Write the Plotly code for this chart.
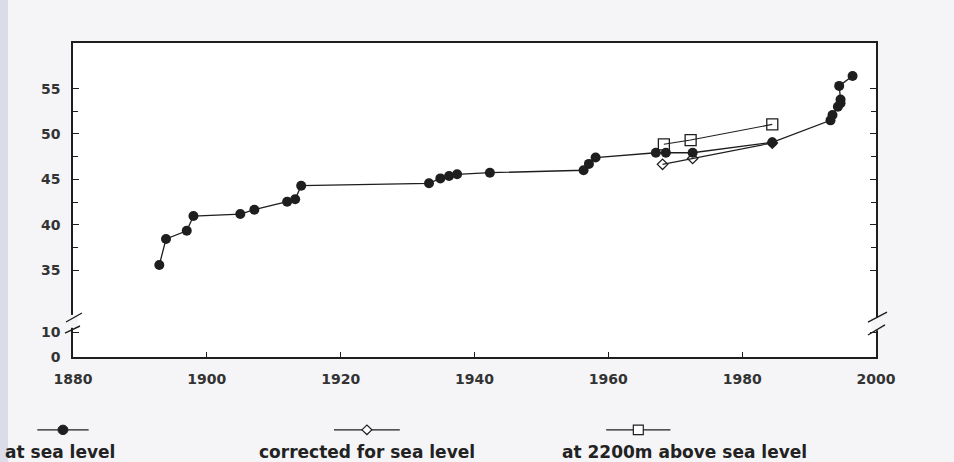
import plotly.graph_objects as go

# ---------------- data ----------------
sea_year = [1892.9, 1893.9, 1897.0, 1898.0, 1905.0, 1907.1, 1912.0, 1913.2, 1914.1,
            1933.2, 1934.9, 1936.2, 1937.4, 1942.3, 1956.3, 1957.1, 1958.1,
            1967.1, 1968.6, 1972.6, 1984.5, 1993.2, 1993.5, 1994.3, 1994.7,
            1994.7, 1994.5, 1996.5]
sea_val = [35.55, 38.42, 39.33, 40.95, 41.17, 41.65, 42.53, 42.8, 44.3,
           44.56, 45.1, 45.36, 45.55, 45.73, 46.0, 46.7, 47.4,
           47.93, 47.93, 47.93, 49.08, 51.5, 52.1, 53.0, 53.4,
           53.8, 55.3, 56.4]
corr_year = [1968.1, 1972.6, 1984.5]
corr_val = [46.65, 47.3, 49.0]
alt_year = [1968.3, 1972.3, 1984.5]
alt_val = [48.86, 49.33, 51.06]

x_ticks = [1880, 1900, 1920, 1940, 1960, 1980, 2000]
y_major = [35, 40, 45, 50, 55]
y_minor = [37.5, 42.5, 47.5, 52.5]
# broken axis: the bottom segment (0 and 10) is drawn compressed below the break
y_zero_pos = 25.41
y_ten_pos = 28.16
y_break_labels = ["0", "10"]
y_top = 60.03

legend_names = ["at sea level", "corrected for sea level", "at 2200m above sea level"]

INK = "#1e1e1e"
FONT = "DejaVu Sans"
BG = "#f5f5f8"
TICKFONT = dict(family=FONT, size=14, color="#333333")

fig = go.Figure()
fig.add_trace(go.Scatter(x=alt_year, y=alt_val, mode="lines+markers", name=legend_names[2],
                         line=dict(color=INK, width=1.1),
                         marker=dict(symbol="square-open", size=11, color=INK, line=dict(width=1.3))))
fig.add_trace(go.Scatter(x=corr_year, y=corr_val, mode="lines+markers", name=legend_names[1],
                         line=dict(color=INK, width=1.1),
                         marker=dict(symbol="diamond-open", size=8, color=INK, line=dict(width=1.3))))
fig.add_trace(go.Scatter(x=sea_year, y=sea_val, mode="lines+markers", name=legend_names[0],
                         line=dict(color=INK, width=1.3),
                         marker=dict(symbol="circle", size=10, color=INK)))

fig.update_xaxes(range=[1880, 2000], tickvals=x_ticks,
                 ticktext=[f"<b>{v}</b>" for v in x_ticks],
                 ticks="inside", ticklen=5,
                 tickcolor=INK, showline=True, linecolor=INK, linewidth=1.5, mirror=True,
                 showgrid=False, zeroline=False, ticklabelstandoff=8, tickfont=TICKFONT)
fig.update_yaxes(range=[y_zero_pos, y_top],
                 tickvals=[y_zero_pos, y_ten_pos] + y_major,
                 ticktext=[f"<b>{t}</b>" for t in y_break_labels + [str(v) for v in y_major]],
                 ticks="inside", ticklen=6, tickcolor=INK,
                 minor=dict(tickvals=y_minor, ticks="inside", ticklen=5, tickcolor=INK),
                 showline=True, linecolor=INK, linewidth=1.5, mirror="allticks",
                 showgrid=False, zeroline=False, ticklabelstandoff=8, tickfont=TICKFONT)

shapes = []
# scanner edge band on the left
shapes.append(dict(type="rect", xref="paper", yref="paper", x0=-0.091, x1=-0.081, y0=-0.35, y1=1.15,
                   fillcolor="#dcdce8", line=dict(width=0), layer="below"))
# left axis break
shapes.append(dict(type="rect", xref="paper", yref="paper", x0=-0.006, x1=0.006, y0=0.093, y1=0.134,
                   fillcolor=BG, line=dict(width=0), layer="above"))
for (x0, y0, x1, y1) in [(-0.0087, 0.1115, 0.0112, 0.1401), (-0.010, 0.0764, 0.0087, 0.0987)]:
    shapes.append(dict(type="line", xref="paper", yref="paper", x0=x0, y0=y0, x1=x1, y1=y1,
                       line=dict(color=INK, width=1.4), layer="above"))
# right axis break
shapes.append(dict(type="rect", xref="paper", yref="paper", x0=0.994, x1=1.006, y0=0.085, y1=0.125,
                   fillcolor=BG, line=dict(width=0), layer="above"))
for (x0, y0, x1, y1) in [(0.990, 0.111, 1.0137, 0.143), (0.990, 0.070, 1.0112, 0.102)]:
    shapes.append(dict(type="line", xref="paper", yref="paper", x0=x0, y0=y0, x1=x1, y1=y1,
                       line=dict(color=INK, width=1.4), layer="above"))

# custom legend: symbol above text
leg_sym_x = [-0.0125, 0.366, 0.704]     # paper x of symbol centres
leg_txt_x = [-0.0870, 0.366, 0.761]
leg_txt_anchor = ["left", "center", "center"]
leg_half = [0.032, 0.041, 0.040]
sym_y = -0.232
txt_y = -0.302
annotations = []
for i in range(3):
    cx = leg_sym_x[i]
    shapes.append(dict(type="line", xref="paper", yref="paper", x0=cx - leg_half[i], x1=cx + leg_half[i],
                       y0=sym_y, y1=sym_y, line=dict(color=INK, width=1.3)))
    annotations.append(dict(text="<b>" + legend_names[i] + "</b>", xref="paper", yref="paper",
                            x=leg_txt_x[i], y=txt_y,
                            showarrow=False, xanchor=leg_txt_anchor[i], yanchor="middle",
                            font=dict(family=FONT, size=17, color="#222222")))
# legend glyphs
dx = 0.0062
dy = 0.015
shapes.append(dict(type="circle", xref="paper", yref="paper",
                   x0=leg_sym_x[0] - dx, x1=leg_sym_x[0] + dx, y0=sym_y - dy, y1=sym_y + dy,
                   fillcolor=INK, line=dict(color=INK, width=1)))
cx = leg_sym_x[1]
shapes.append(dict(type="path", xref="paper", yref="paper",
                   path=f"M {cx-dx},{sym_y} L {cx},{sym_y+dy} L {cx+dx},{sym_y} L {cx},{sym_y-dy} Z",
                   fillcolor="white", line=dict(color=INK, width=1.2)))
cx = leg_sym_x[2]
shapes.append(dict(type="rect", xref="paper", yref="paper",
                   x0=cx - dx, x1=cx + dx, y0=sym_y - dy, y1=sym_y + dy,
                   fillcolor="white", line=dict(color=INK, width=1.2)))

fig.update_layout(width=954, height=462, showlegend=False,
                  margin=dict(l=73, r=78, t=43, b=105),
                  paper_bgcolor=BG, plot_bgcolor="white",
                  font=dict(family=FONT, color="#222222"),
                  shapes=shapes, annotations=annotations)

fig.write_html("out.html", config={"displayModeBar": False},
               post_script="document.body.style.margin='0';document.body.style.padding='0';")
